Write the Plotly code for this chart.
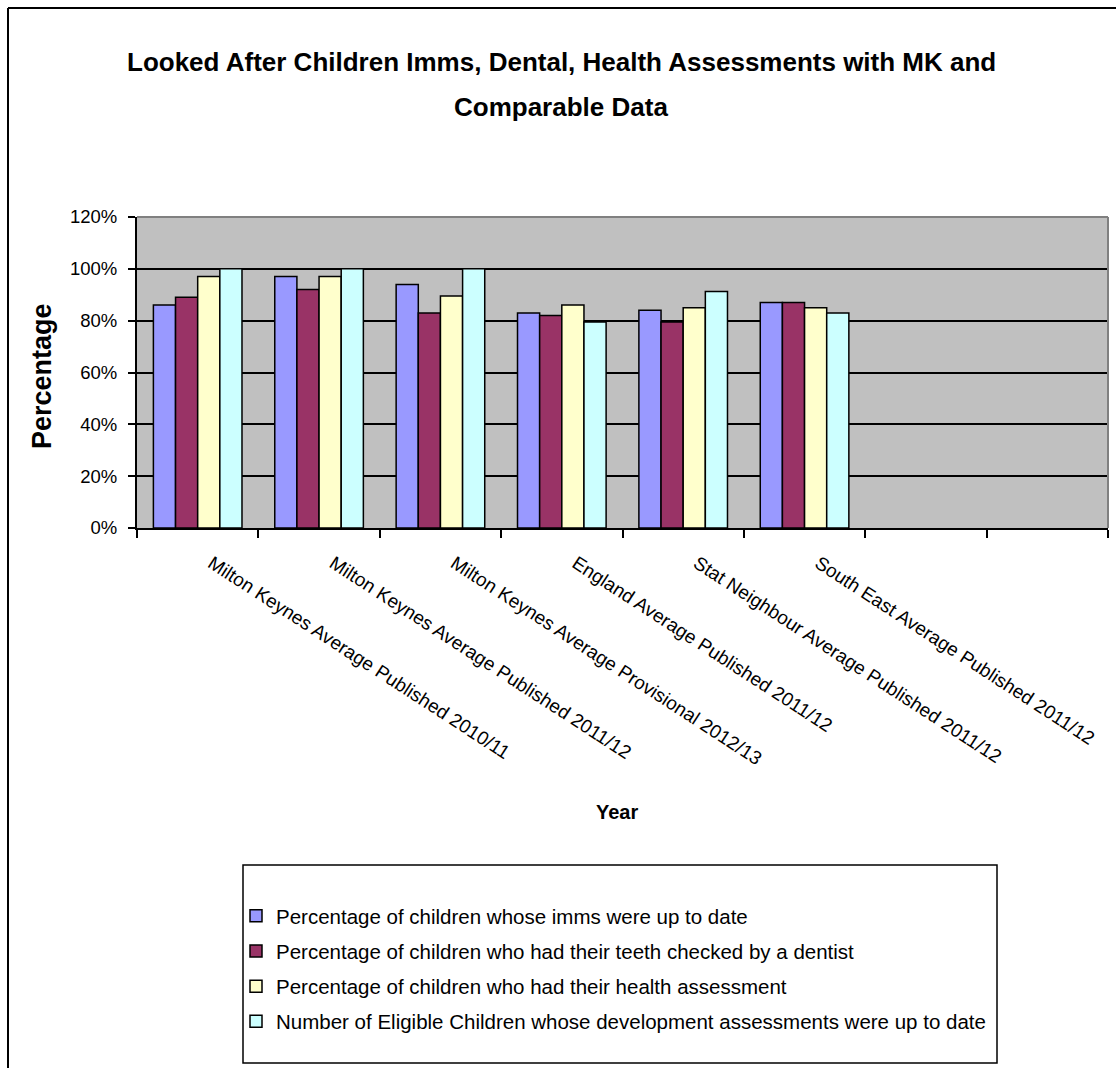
import plotly.graph_objects as go

categories = [
    "Milton Keynes Average Published 2010/11",
    "Milton Keynes Average Published 2011/12",
    "Milton Keynes Average Provisional 2012/13",
    "England Average Published 2011/12",
    "Stat Neighbour Average Published 2011/12",
    "South East Average Published 2011/12",
]
blank_slots = [" ", "  "]

series_names = [
    "Percentage of children whose imms were up to date",
    "Percentage of children who had their teeth checked by a dentist",
    "Percentage of children who had their health assessment",
    "Number of Eligible Children whose development assessments were up to date",
]
imms = [0.86, 0.97, 0.94, 0.83, 0.84, 0.87]
dental = [0.89, 0.92, 0.83, 0.82, 0.795, 0.87]
health = [0.97, 0.97, 0.895, 0.86, 0.85, 0.85]
development = [1.00, 1.00, 1.00, 0.795, 0.913, 0.83]
colors = ["#9999FF", "#993366", "#FFFFCC", "#CCFFFF"]

FONT = "Liberation Sans, Arial, sans-serif"

W, H = 1116, 1068
L, R, T, B = 137, 1108, 217, 528
pw, ph = R - L, B - T


def px(x):
    return (x - L) / pw


def py(y):
    return (B - y) / ph


fig = go.Figure()
for i, (name, vals, col) in enumerate(zip(series_names, [imms, dental, health, development], colors)):
    fig.add_trace(go.Bar(
        x=categories, y=vals, name=name,
        marker=dict(color=col, line=dict(color="black", width=1.5)),
        legendgroup=f"g{i}",
    ))

fig.update_layout(
    width=W, height=H,
    margin=dict(l=L, r=W - R, t=T, b=H - B, pad=0, autoexpand=False),
    paper_bgcolor="white",
    plot_bgcolor="#C0C0C0",
    barmode="group",
    bargap=0.27,
    bargroupgap=0,
    showlegend=True,
    font=dict(family=FONT, color="black", size=20),
    legend=dict(
        x=px(236), y=py(896), xanchor="left", yanchor="top",
        borderwidth=0, bgcolor="rgba(0,0,0,0)",
        font=dict(family=FONT, size=20.5, color="black"),
        tracegroupgap=5.5, traceorder="grouped",
        itemwidth=30,
    ),
    xaxis=dict(
        type="category",
        categoryorder="array",
        categoryarray=categories + blank_slots,
        range=[-0.5, len(categories) + len(blank_slots) - 0.5],
        tickson="boundaries",
        ticks="outside", ticklen=8, tickwidth=1.5, tickcolor="black",
        tickangle=33,
        ticklabelshift=14, ticklabelstandoff=15,
        tickfont=dict(family=FONT, size=19, color="black"),
        showline=True, linecolor="black", linewidth=2,
        showgrid=False, zeroline=False,
        fixedrange=True,
    ),
    yaxis=dict(
        range=[0, 1.2], dtick=0.2, tickformat=".0%",
        ticks="outside", ticklen=7, tickwidth=1.5, tickcolor="black",
        ticklabelstandoff=7,
        tickfont=dict(family=FONT, size=18.5, color="black"),
        showline=True, linecolor="black", linewidth=2,
        showgrid=True, gridcolor="black", gridwidth=2,
        zeroline=False,
        fixedrange=True,
    ),
)

# plot area border (grey top / right)
fig.add_shape(type="line", xref="paper", yref="paper", x0=0, x1=1, y0=1, y1=1,
              line=dict(color="#808080", width=2), layer="above")
fig.add_shape(type="line", xref="paper", yref="paper", x0=1, x1=1, y0=0, y1=1,
              line=dict(color="#808080", width=2), layer="above")
# outer chart frame
fig.add_shape(type="line", xref="paper", yref="paper", x0=px(8), x1=px(8), y0=py(8), y1=py(1068),
              line=dict(color="black", width=2))
fig.add_shape(type="line", xref="paper", yref="paper", x0=px(8), x1=px(1116), y0=py(8), y1=py(8),
              line=dict(color="black", width=2))
# legend frame
fig.add_shape(type="rect", xref="paper", yref="paper", x0=px(243), x1=px(997), y0=py(865), y1=py(1063),
              line=dict(color="black", width=1.5), fillcolor="white", layer="below")

# titles
fig.add_annotation(text="<b>Looked After Children Imms, Dental, Health Assessments with MK and</b>",
                   xref="paper", yref="paper", x=px(561), y=py(62), showarrow=False,
                   xanchor="center", yanchor="middle",
                   font=dict(family=FONT, size=26, color="black"))
fig.add_annotation(text="<b>Comparable Data</b>",
                   xref="paper", yref="paper", x=px(561), y=py(107), showarrow=False,
                   xanchor="center", yanchor="middle",
                   font=dict(family=FONT, size=26, color="black"))
fig.add_annotation(text="<b>Year</b>",
                   xref="paper", yref="paper", x=px(617), y=py(812), showarrow=False,
                   xanchor="center", yanchor="middle",
                   font=dict(family=FONT, size=20, color="black"))
fig.add_annotation(text="<b>Percentage</b>",
                   xref="paper", yref="paper", x=px(42), y=py(376), showarrow=False,
                   xanchor="center", yanchor="middle", textangle=-90,
                   font=dict(family=FONT, size=27, color="black"))

fig.write_html("out.html")
